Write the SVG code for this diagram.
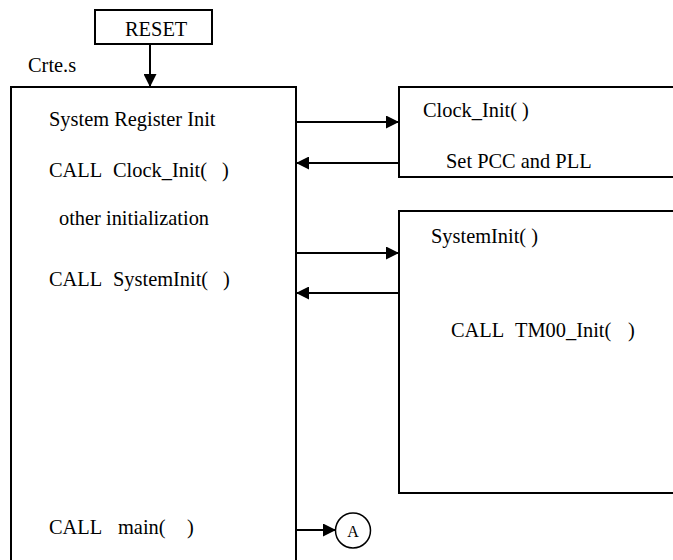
<svg xmlns="http://www.w3.org/2000/svg" width="673" height="560" viewBox="0 0 673 560">
  <style>
    .box { fill: #fff; stroke: #000; stroke-width: 2; }
    .open { fill: none; stroke: #000; stroke-width: 2; }
    .lbl { font-family: "Liberation Serif", "Times New Roman", serif; font-size: 20.4px; fill: #000; }
    .small { font-family: "Liberation Serif", "Times New Roman", serif; font-size: 16px; fill: #000; }
    .wire { fill: none; stroke: #000; stroke-width: 2; marker-end: url(#head); }
  </style>
  <defs>
    <marker id="head" markerUnits="userSpaceOnUse" markerWidth="13" markerHeight="13" refX="13" refY="6.5" orient="auto">
      <path d="M0,0 L13,6.5 L0,13 z" fill="#000"/>
    </marker>
  </defs>
  <rect width="673" height="560" fill="#fff"/>

  <!-- reset entry -->
  <g id="reset">
    <rect class="box" x="95" y="10" width="117" height="34"/>
    <text class="lbl" x="125" y="36">RESET</text>
  </g>

  <!-- startup file -->
  <g id="crte">
    <text class="lbl" x="28" y="72">Crte.s</text>
    <path class="open" d="M11,566 V87 H296 V566"/>
    <text class="lbl" x="49" y="126">System Register Init</text>
    <text class="lbl" x="49" y="177">CALL<tspan x="113">Clock_Init(</tspan><tspan x="222">)</tspan></text>
    <text class="lbl" x="59" y="225">other initialization</text>
    <text class="lbl" x="49" y="286">CALL<tspan x="113">SystemInit(</tspan><tspan x="223">)</tspan></text>
    <text class="lbl" x="49" y="534">CALL<tspan x="118">main(</tspan><tspan x="187">)</tspan></text>
  </g>

  <!-- clock setup routine -->
  <g id="clock-init">
    <path class="open" d="M675,87 H399 V177 H675"/>
    <text class="lbl" x="423" y="117">Clock_Init( )</text>
    <text class="lbl" x="446" y="168">Set PCC and PLL</text>
  </g>

  <!-- system init routine -->
  <g id="system-init">
    <path class="open" d="M675,211 H399 V493 H675"/>
    <text class="lbl" x="431" y="243">SystemInit( )</text>
    <text class="lbl" x="451" y="337">CALL<tspan x="515">TM00_Init(</tspan><tspan x="628">)</tspan></text>
  </g>

  <!-- off-page connector -->
  <g id="connector-a">
    <circle cx="353" cy="530.5" r="17.5" fill="#fff" stroke="#000" stroke-width="1.5"/>
    <text class="small" x="353" y="537" text-anchor="middle">A</text>
  </g>

  <!-- control flow -->
  <g id="connectors">
    <line class="wire" x1="150" y1="44" x2="150" y2="87"/>
    <line class="wire" x1="296" y1="122" x2="399" y2="122"/>
    <line class="wire" x1="399" y1="163" x2="296" y2="163"/>
    <line class="wire" x1="296" y1="253" x2="399" y2="253"/>
    <line class="wire" x1="399" y1="293" x2="296" y2="293"/>
    <line class="wire" x1="296" y1="530" x2="336" y2="530"/>
  </g>
</svg>
